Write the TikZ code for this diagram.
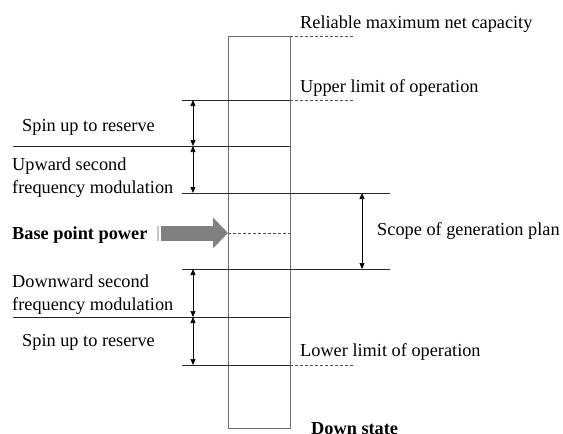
\documentclass[tikz,border=0pt]{standalone}
\usepackage{fontspec}
\setmainfont{Liberation Serif}
\usepackage{tikz}
\usetikzlibrary{arrows.meta,positioning,calc}
\usepackage{xcolor}
\definecolor{colgray}{RGB}{110,110,110}
\definecolor{linegray}{RGB}{40,40,40}
\definecolor{arrowgray}{RGB}{128,128,128}
\tikzstyle{level} = [line width=0.8pt, color=linegray]
\tikzstyle{levelmark} = [line width=0.8pt, color=linegray!80, dash pattern=on 3pt off 2pt]
\tikzstyle{dimarrow} = [line width=0.7pt, {Triangle[width=5pt,length=6pt]}-{Triangle[width=5pt,length=6pt]}, color=black]
\tikzstyle{lbl} = [inner sep=0pt, anchor=base west, font=\fontsize{18.3}{23}\selectfont, align=left]
\tikzstyle{bigarrow} = [line width=15pt, color=arrowgray, -{Triangle[width=30pt,length=15pt]}]

\begin{document}
\begin{tikzpicture}[x=1pt,y=-1pt]
\useasboundingbox (0,0) rectangle (563,434);

% Column
\node[draw=colgray, line width=0.9pt, minimum width=62pt, minimum height=392pt, inner sep=0pt, anchor=north west] (col) at (228,36) {};

% Levels
\coordinate (topR) at (290,36);    \coordinate (topE) at (354,36);
\coordinate (ulL) at (182,100);    \coordinate (ulR) at (290,100);   \coordinate (ulE) at (354,100);
\coordinate (surL) at (13,146);    \coordinate (surR) at (290,146);
\coordinate (gpL) at (182,193);    \coordinate (gpR) at (390,193);
\coordinate (bpL) at (228,233);    \coordinate (bpR) at (290,233);
\coordinate (gpbL) at (182,269);   \coordinate (gpbR) at (390,269);
\coordinate (sdrL) at (13,317);    \coordinate (sdrR) at (290,317);
\coordinate (llL) at (182,365);    \coordinate (llR) at (290,365);   \coordinate (llE) at (354,365);
\coordinate (dimx) at (193,0);
\coordinate (scopex) at (362,0);

\draw[level] (ulL) -- (ulR);
\draw[level] (surL) -- (surR);
\draw[level] (gpL) -- (gpR);
\draw[level] (gpbL) -- (gpbR);
\draw[level] (sdrL) -- (sdrR);
\draw[level] (llL) -- (llR);

\draw[levelmark] (topR) -- (topE);
\draw[levelmark] (ulR) -- (ulE);
\draw[levelmark] (llR) -- (llE);
\draw[levelmark] (bpL) -- (bpR);

% Ranges
\draw[dimarrow] (ulL -| dimx) -- (surL -| dimx);
\draw[dimarrow] (surL -| dimx) -- (gpL -| dimx);
\draw[dimarrow] (gpbL -| dimx) -- (sdrL -| dimx);
\draw[dimarrow] (sdrL -| dimx) -- (llL -| dimx);
\draw[dimarrow] (gpR -| scopex) -- (gpbR -| scopex);

% Labels
\node[lbl] (rmnc) at (300,28) {Reliable maximum net capacity};
\node[lbl] (ulo) at (300,92) {Upper limit of operation};
\node[lbl] (sgp) at (377,235) {Scope of generation plan};
\node[lbl] (llo) at (300,356) {Lower limit of operation};
\node[lbl, font=\fontsize{18.3}{23}\selectfont\bfseries] (down) at (311,434) {Down state};
\node[lbl] (sur) at (22,131) {Spin up to reserve};
\node[lbl] (usfm) at (12,193) {Upward second\\frequency modulation};
\node[lbl, font=\fontsize{18.3}{23}\selectfont\bfseries] (bpp) at (12,239) {Base point power};
\node[lbl] (dsfm) at (12,310) {Downward second\\frequency modulation};
\node[lbl] (sdr) at (22,346) {Spin up to reserve};

% Base point arrow
\coordinate (bpa) at (161,233);
\coordinate (bps) at (158,233);
\draw[line width=2.5pt, arrowgray!45] ($(bps)+(0,-7.5)$) -- ($(bps)+(0,7.5)$);
\draw[bigarrow] (bpa) -- (col.west |- bpa);
\end{tikzpicture}
\end{document}
